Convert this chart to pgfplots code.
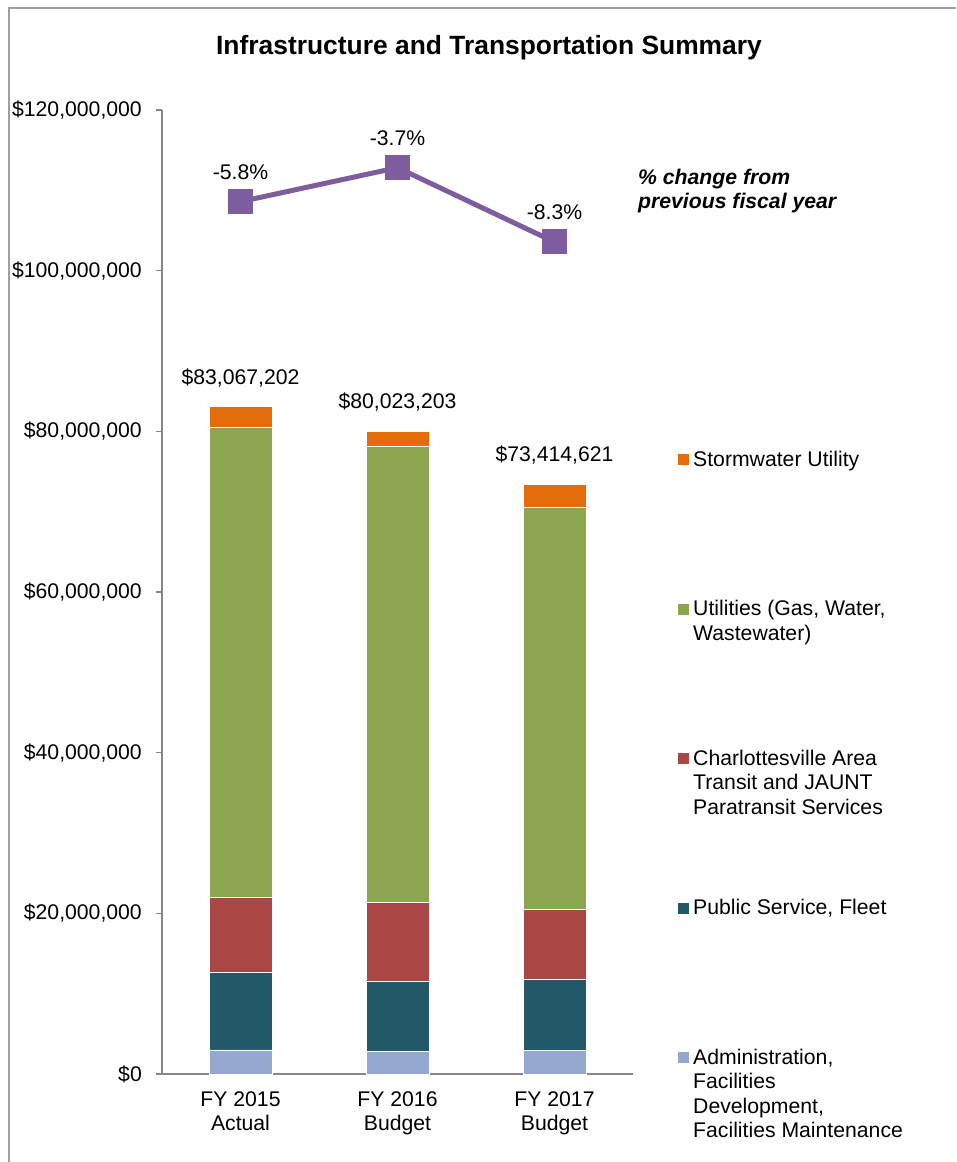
\documentclass[border=0pt]{standalone}
\usepackage{pgfplots}
\pgfplotsset{compat=1.18}
\usepackage{fontspec}
\setmainfont{Liberation Sans}
\definecolor{cStorm}{HTML}{E46C0A}
\definecolor{cUtil}{HTML}{8BA64F}
\definecolor{cCAT}{HTML}{A94744}
\definecolor{cPub}{HTML}{215968}
\definecolor{cAdm}{HTML}{95A9D0}
\definecolor{cLine}{HTML}{7D5D9E}
\definecolor{axisgray}{HTML}{878787}
\newcommand{\lf}{\fontsize{21.2pt}{24.4pt}\selectfont}
\begin{document}
\begin{tikzpicture}
\path[use as bounding box] (0,0) rectangle (956pt,1162pt);
\draw[color=axisgray!80, line width=1.5pt] (9pt,0) -- (9pt,1154pt) -- (956pt,1154pt);
\node[anchor=base, inner sep=0pt, font=\fontsize{26.4pt}{30pt}\selectfont\bfseries] at (489pt,1107pt) {Infrastructure and Transportation Summary};
\begin{axis}[
  at={(162pt,88pt)}, anchor=south west, scale only axis,
  width=471pt, height=964pt,
  xmin=-0.5, xmax=2.5, ymin=0, ymax=120000000,
  ybar stacked, bar width=63pt,
  axis lines=left,
  axis line style={-, draw=axisgray, line width=1.5pt},
  xtick={0,1,2},
  xticklabels={{FY 2015\\Actual},{FY 2016\\Budget},{FY 2017\\Budget}},
  xticklabel style={align=center, anchor=north, inner sep=0pt, font=\fontsize{21.2pt}{23.4pt}\selectfont, yshift=-11.7pt},
  ytick={0,20000000,40000000,60000000,80000000,100000000,120000000},
  yticklabels={{\$0},{\$20,000,000},{\$40,000,000},{\$60,000,000},{\$80,000,000},{\$100,000,000},{\$120,000,000}},
  yticklabel style={anchor=east, inner sep=0pt, font=\lf, xshift=-14pt},
  scaled y ticks=false,
  tick align=outside, major tick length=6pt,
  ytick style={draw=axisgray, line width=1.5pt},
  xtick style={draw=none},
  clip=false,
]
\addplot[fill=cAdm, draw=white, line width=0.4pt] coordinates {(0,2990000) (1,2860000) (2,2930000)};
\addplot[fill=cPub, draw=white, line width=0.4pt] coordinates {(0,9710000) (1,8720000) (2,8860000)};
\addplot[fill=cCAT, draw=white, line width=0.4pt] coordinates {(0,9250000) (1,9790000) (2,8710000)};
\addplot[fill=cUtil, draw=white, line width=0.4pt] coordinates {(0,58550000) (1,56810000) (2,50080000)};
\addplot[fill=cStorm, draw=white, line width=0.4pt] coordinates {(0,2567202) (1,1843203) (2,2834621)};
\end{axis}
\begin{axis}[
  at={(162pt,88pt)}, anchor=south west, scale only axis,
  width=471pt, height=964pt,
  xmin=-0.5, xmax=2.5, ymin=0, ymax=120000000,
  hide axis, clip=false,
]
\addplot[color=cLine, line width=5pt, mark=square*, mark size=10pt,
  mark options={fill=cLine, draw=none},
  nodes near coords, point meta=explicit symbolic,
  nodes near coords style={font=\lf, text=black, anchor=base, yshift=22.5pt, inner sep=0pt}]
  coordinates {(0,108590000) [-5.8\%] (1,112820000) [-3.7\%] (2,103570000) [-8.3\%]};
\addplot[draw=none, mark=none,
  nodes near coords, point meta=explicit symbolic,
  nodes near coords style={font=\lf, text=black, anchor=base, yshift=22.5pt, inner sep=0pt}]
  coordinates {(0,83067202) [\$83,067,202] (1,80023203) [\$80,023,203] (2,73414621) [\$73,414,621]};
\end{axis}
\node[anchor=base west, inner sep=0pt, font=\lf\bfseries\itshape] at (638pt,977.5pt) {\% change from};
\node[anchor=base west, inner sep=0pt, font=\lf\bfseries\itshape] at (638pt,953.5pt) {previous fiscal year};
% legend
\fill[cStorm] (678pt,696.5pt) rectangle (689pt,707.5pt);
\fill[cUtil] (678pt,547pt) rectangle (689pt,558pt);
\fill[cCAT] (678pt,397.5pt) rectangle (689pt,408.5pt);
\fill[cPub] (678pt,248pt) rectangle (689pt,259pt);
\fill[cAdm] (678pt,98.5pt) rectangle (689pt,109.5pt);
\begin{scope}[every node/.style={anchor=base west, inner sep=0pt, font=\lf}]
\node at (693pt,695.5pt) {Stormwater Utility};
\node at (693pt,546pt) {Utilities (Gas, Water,};
\node at (693pt,521.6pt) {Wastewater)};
\node at (693pt,396.5pt) {Charlottesville Area};
\node at (693pt,372.1pt) {Transit and JAUNT};
\node at (693pt,347.7pt) {Paratransit Services};
\node at (693pt,247pt) {Public Service, Fleet};
\node at (693pt,97.5pt) {Administration,};
\node at (693pt,73.1pt) {Facilities};
\node at (693pt,48.7pt) {Development,};
\node at (693pt,24.3pt) {Facilities Maintenance};
\end{scope}
\end{tikzpicture}
\end{document}
